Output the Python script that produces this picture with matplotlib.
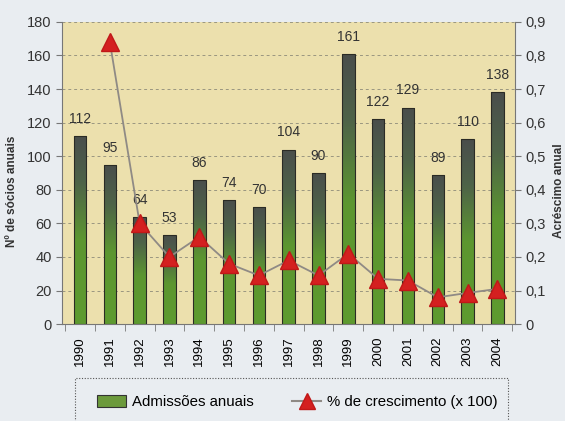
import numpy as np
import matplotlib
matplotlib.use("Agg")
import matplotlib.pyplot as plt
from matplotlib.colors import LinearSegmentedColormap
from matplotlib.lines import Line2D
from matplotlib.patches import Patch, Rectangle

years = ["1990", "1991", "1992", "1993", "1994", "1995", "1996", "1997",
         "1998", "1999", "2000", "2001", "2002", "2003", "2004"]
admissions = [112, 95, 64, 53, 86, 74, 70, 104, 90, 161, 122, 129, 89, 110, 138]
growth = [None, 0.84, 0.30, 0.20, 0.26, 0.18, 0.145, 0.19, 0.145, 0.21,
          0.135, 0.13, 0.08, 0.093, 0.105]

plt.rcParams['font.family'] = ['Liberation Sans', 'DejaVu Sans']

fig = plt.figure(figsize=(5.65, 4.21), dpi=100)
fig.patch.set_facecolor('#e9edf1')
ax = fig.add_axes([0.110, 0.230, 0.802, 0.718])
ax.set_facecolor('#ece0ad')

x = np.arange(len(years))
width = 0.42
bars = ax.bar(x, admissions, width, color='none', edgecolor='#2b2b25', linewidth=0.8, zorder=3)

# vertical gradient (dark grey top -> green bottom) clipped into each bar
cmap = LinearSegmentedColormap.from_list(
    'g', [(0.0, '#5e9b2f'), (0.45, '#5c9630'), (0.75, '#4e6348'), (1.0, '#4a4e4c')])
grad = np.linspace(0, 1, 256).reshape(-1, 1)
for b in bars:
    bx, by = b.get_x(), b.get_y()
    bw, bh = b.get_width(), b.get_height()
    im = ax.imshow(grad, cmap=cmap, origin='lower', aspect='auto',
                   extent=[bx, bx + bw, by, by + bh], zorder=2)
    im.set_clip_path(b)

for xi, v in zip(x, admissions):
    ax.text(xi, v + 6, str(v), ha='center', va='bottom', fontsize=10, color='#333333', zorder=5)

ax.set_xlim(-0.6, len(years) - 0.4)
ax.set_ylim(0, 180)
ax.set_yticks(range(0, 181, 20))
ax.set_xticks(x)
ax.set_xticklabels(years, rotation=90, fontsize=9.5)
ax.set_xticks(np.arange(-0.5, len(years), 1.0), minor=True)
ax.tick_params(axis='x', which='major', length=0, pad=9)
ax.tick_params(axis='x', which='minor', length=5, color='#777777')
ax.tick_params(axis='y', labelsize=10.5, length=4, color='#777777', colors='#333333')
ax.grid(axis='y', linestyle=(0, (3, 3)), color='#9a9680', linewidth=0.7, zorder=1)
for s in ['top', 'right']:
    ax.spines[s].set_visible(False)
for s in ['left', 'bottom']:
    ax.spines[s].set_color('#777777')
ax.set_ylabel('Nº de sócios anuais', fontsize=8.5, fontweight='bold', color='#333333')
ax.yaxis.set_label_coords(-0.097, 0.44)

ax2 = ax.twinx()
ax2.set_ylim(0, 0.9)
ax2.set_yticks(np.arange(0, 0.91, 0.1))
ax2.set_yticklabels(['0'] + [f"0,{i}" for i in range(1, 10)])
ax2.tick_params(axis='y', labelsize=10.5, length=4, color='#777777', colors='#333333')
for s in ['top', 'left', 'bottom']:
    ax2.spines[s].set_visible(False)
ax2.spines['right'].set_color('#777777')
ax2.set_ylabel('Acréscimo anual', fontsize=8.5, fontweight='bold', color='#333333',
               rotation=90)
ax2.yaxis.set_label_coords(1.083, 0.44)

gx = [xi for xi, g in zip(x, growth) if g is not None]
gy = [g for g in growth if g is not None]
ax2.plot(gx, gy, color='#8f8a85', linewidth=1.3, zorder=4)
ax2.plot(gx, gy, linestyle='none', marker='^', markersize=13, color='#d42020',
         markeredgecolor='#c01818', zorder=6)

# dotted legend frame, cut by the bottom edge as in the scan
fig.patches.append(Rectangle((0.133, -0.05), 0.766, 0.152, transform=fig.transFigure,
                             facecolor='none', edgecolor='#555555', linewidth=0.8,
                             linestyle=(0, (1, 1.5))))

handles = [Patch(facecolor='#6c9a3c', edgecolor='#333333', linewidth=0.8),
           Line2D([], [], color='#8f8a85', marker='^', markersize=11,
                  markerfacecolor='#d42020', markeredgecolor='#c01818')]
fig.legend(handles, ['Admissões anuais', '% de crescimento (x 100)'],
           loc='center left', bbox_to_anchor=(0.172, 0.045),
           ncol=2, fontsize=10.8, frameon=False, handlelength=1.9, handleheight=0.9,
           handletextpad=0.4, columnspacing=2.6, borderpad=0, borderaxespad=0)

fig.savefig('out.png', dpi=100, facecolor=fig.get_facecolor())
